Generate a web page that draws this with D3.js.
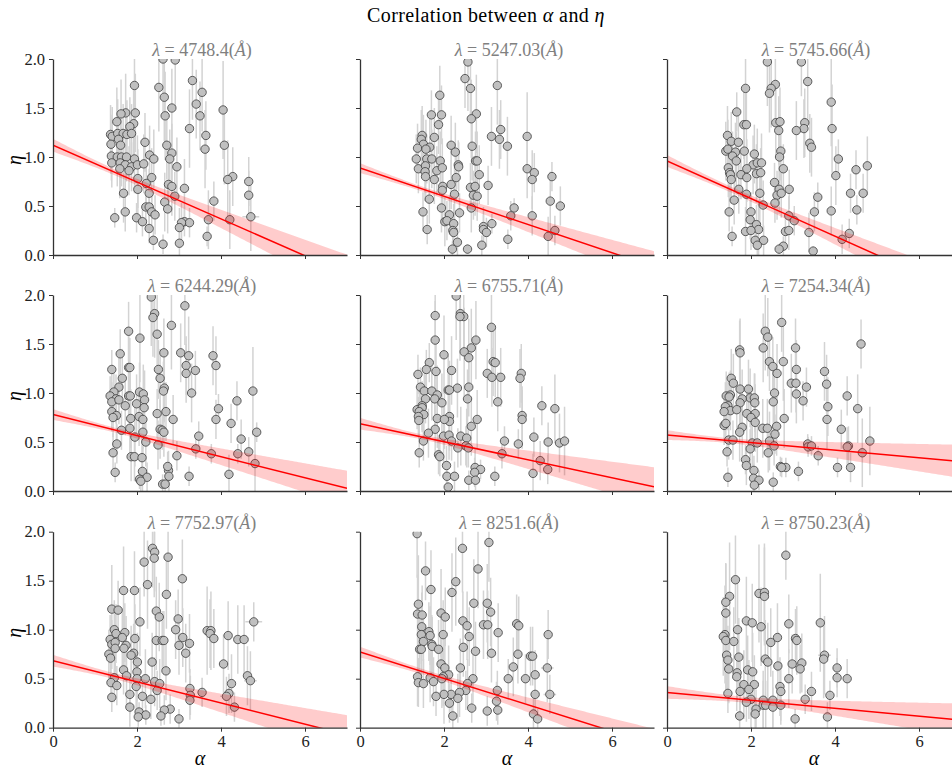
<!DOCTYPE html>
<html><head><meta charset="utf-8">
<script src="https://cdn.jsdelivr.net/npm/d3@7"></script>
<style>body{margin:0;background:#fff;overflow:hidden}</style>
</head><body><svg id="c" width="952" height="772"></svg>
<script>
const wavelengths = ["4748.4","5247.03","5745.66","6244.29","6755.71","7254.34","7752.97","8251.6","8750.23"];
const xTicks = [0,2,4,6];
const yTicks = [0,0.5,1,1.5,2];
// each point: [alpha, eta, eta error, (optional) alpha error]
const p1 = [[2.62,2.0,0.55],[2.91,1.99,0.5],[1.94,1.73,0.45],[3.32,1.78,0.4],[2.52,1.71,0.45],[3.55,1.66,0.4],[2.65,1.61,0.45],[3.41,1.54,0.35],[2.83,1.50,0.4],[4.05,1.48,0.5],[1.73,1.45,0.4],[1.62,1.44,0.35],[1.96,1.45,0.4],[2.67,1.42,0.45],[3.50,1.42,0.35],[1.52,1.36,0.35],[1.92,1.34,0.4],[1.83,1.31,0.3],[3.25,1.29,0.4],[1.37,1.23,0.3],[1.41,1.21,0.3],[1.54,1.24,0.35],[1.67,1.24,0.3],[1.76,1.23,0.35],[1.87,1.24,0.3],[1.56,1.18,0.3],[3.64,1.22,0.35],[1.38,1.13,0.3],[1.61,1.12,0.3],[2.19,1.15,0.3],[2.71,1.12,0.35],[3.62,1.08,0.4],[4.08,1.12,0.4],[1.39,1.01,0.25],[2.83,1.04,0.3],[1.53,1.00,0.3],[1.63,1.00,0.3],[1.75,1.00,0.25],[2.30,1.02,0.3],[2.40,0.98,0.3],[1.94,0.98,0.35],[2.78,0.98,0.3],[1.40,0.94,0.25],[1.60,0.94,0.3],[1.72,0.92,0.3],[1.87,0.90,0.25],[2.01,0.92,0.3],[2.16,0.93,0.3],[2.95,0.90,0.3],[1.59,0.88,0.3],[1.81,0.86,0.25],[2.02,0.78,0.3],[2.35,0.79,0.3],[4.28,0.80,0.3],[4.16,0.77,0.4],[2.22,0.73,0.3],[4.66,0.75,0.25],[2.75,0.72,0.25],[2.83,0.70,0.3],[3.13,0.68,0.3],[2.02,0.67,0.25],[1.68,0.63,0.3],[2.29,0.63,0.25],[2.90,0.60,0.25],[4.66,0.61,0.25],[3.83,0.55,0.2],[2.66,0.54,0.3],[2.21,0.49,0.2],[2.29,0.49,0.2],[2.73,0.47,0.25],[2.35,0.44,0.2],[2.43,0.41,0.2],[1.72,0.44,0.2],[1.47,0.38,0.1],[1.99,0.38,0.15],[2.13,0.34,0.15],[4.71,0.39,0.35,0.2],[3.70,0.36,0.3],[4.21,0.36,0.3],[3.13,0.34,0.15],[3.25,0.33,0.15],[3.06,0.33,0.2],[3.01,0.28,0.2],[2.29,0.27,0.15],[3.67,0.19,0.1],[2.39,0.15,0.1],[2.62,0.11,0.1],[3.01,0.12,0.12]];
const p2 = [[2.57,1.97,0.5],[2.50,1.80,0.3],[2.63,1.70,0.35],[3.27,1.73,0.4],[1.90,1.63,0.3],[1.70,1.43,0.25],[1.94,1.43,0.3],[2.77,1.44,0.4],[2.65,1.39,0.4],[1.87,1.33,0.3],[3.35,1.28,0.3],[3.13,1.21,0.3],[3.32,1.18,0.3],[3.98,1.21,0.45],[1.77,1.20,0.3],[1.48,1.22,0.3],[1.46,1.18,0.3],[1.51,1.13,0.3],[1.37,1.09,0.25],[1.66,1.10,0.3],[2.17,1.12,0.3],[2.67,1.11,0.35],[3.51,1.11,0.3],[2.27,1.05,0.3],[1.57,1.08,0.3],[1.34,0.98,0.25],[1.59,0.98,0.25],[1.71,0.98,0.3],[1.91,0.96,0.3],[2.75,0.96,0.3],[2.79,0.96,0.3],[2.34,0.92,0.25],[2.35,0.90,0.25],[1.39,0.88,0.25],[1.56,0.91,0.3],[1.83,0.86,0.25],[1.96,0.89,0.3],[1.55,0.85,0.3],[1.56,0.80,0.25],[2.84,0.82,0.3],[3.98,0.88,0.3],[4.15,0.84,0.2],[4.10,0.77,0.3],[4.57,0.80,0.15],[1.77,0.77,0.25],[2.29,0.79,0.25],[1.97,0.70,0.3],[1.96,0.66,0.3],[2.17,0.72,0.25],[2.63,0.69,0.25],[2.74,0.70,0.3],[3.05,0.71,0.2],[1.65,0.57,0.25],[2.25,0.62,0.3],[2.70,0.61,0.25],[2.79,0.60,0.25],[4.53,0.55,0.3],[4.77,0.50,0.2],[1.94,0.48,0.25],[2.65,0.48,0.25],[3.67,0.48,0.1],[3.59,0.40,0.15],[4.10,0.40,0.2],[1.50,0.44,0.2],[2.37,0.43,0.2],[2.13,0.41,0.2],[2.02,0.34,0.25],[2.07,0.35,0.2],[2.23,0.32,0.2],[3.14,0.32,0.1],[2.94,0.29,0.2],[2.94,0.26,0.15],[3.01,0.23,0.15],[1.60,0.26,0.15],[2.21,0.25,0.15],[2.23,0.23,0.15],[4.64,0.25,0.15],[4.48,0.19,0.2],[2.32,0.13,0.15],[3.52,0.16,0.1],[2.90,0.10,0.1],[2.20,0.06,0.08],[2.56,0.06,0.05]];
const p3 = [[2.39,1.97,0.45],[3.20,1.97,0.35],[3.35,1.77,0.4],[2.58,1.74,0.4],[2.48,1.70,0.4],[2.44,1.65,0.4],[1.87,1.70,0.35],[3.91,1.56,0.45],[1.66,1.46,0.2],[1.83,1.33,0.35],[1.89,1.33,0.4],[2.59,1.35,0.35],[2.69,1.36,0.35],[2.66,1.27,0.35],[3.28,1.35,0.35],[3.26,1.29,0.3],[3.08,1.27,0.3],[3.93,1.29,0.45],[1.44,1.22,0.3],[1.53,1.16,0.3],[1.70,1.15,0.3],[3.40,1.14,0.3],[3.44,1.10,0.3],[1.40,1.06,0.3],[1.45,1.08,0.3],[1.63,1.05,0.3],[1.84,1.06,0.3],[2.08,1.03,0.3],[2.71,1.06,0.3],[1.56,1.01,0.25],[2.68,1.00,0.3],[4.08,0.98,0.2],[1.65,0.96,0.3],[2.05,0.92,0.3],[2.15,0.94,0.35],[2.25,0.94,0.3],[4.77,0.91,0.3],[4.50,0.87,0.2],[1.46,0.89,0.3],[1.90,0.88,0.3],[2.77,0.88,0.25],[2.13,0.83,0.3],[2.23,0.84,0.25],[1.49,0.84,0.3],[1.51,0.82,0.25],[1.76,0.82,0.25],[1.90,0.79,0.25],[1.53,0.77,0.25],[4.02,0.81,0.3],[2.56,0.74,0.2],[1.71,0.67,0.25],[2.67,0.67,0.25],[2.91,0.67,0.2],[1.89,0.62,0.25],[2.21,0.63,0.3],[2.62,0.61,0.25],[2.72,0.63,0.25],[4.37,0.63,0.2],[4.67,0.63,0.2],[3.59,0.59,0.15],[1.60,0.56,0.25],[2.57,0.53,0.2],[2.29,0.51,0.25],[3.91,0.45,0.25],[4.52,0.46,0.15],[3.51,0.44,0.2],[1.48,0.44,0.2],[2.00,0.44,0.2],[2.90,0.40,0.2],[3.03,0.35,0.15],[1.98,0.36,0.2],[2.13,0.31,0.2],[2.18,0.26,0.3],[2.82,0.24,0.15],[2.90,0.25,0.2],[3.38,0.23,0.2],[1.87,0.24,0.25],[2.00,0.25,0.2],[4.34,0.22,0.15],[4.17,0.16,0.15],[1.55,0.19,0.1],[2.10,0.15,0.1],[2.30,0.15,0.15],[2.15,0.10,0.1],[2.77,0.09,0.1],[2.67,0.06,0.05],[3.48,0.04,0.05]];
const p4 = [[2.34,1.98,0.5],[3.14,1.89,0.4],[2.42,1.81,0.45],[2.38,1.77,0.4],[2.82,1.69,0.45],[1.80,1.63,0.3],[2.07,1.56,0.45],[2.48,1.60,0.45],[1.60,1.40,0.25],[2.64,1.41,0.35],[3.04,1.41,0.3],[3.23,1.38,0.4],[3.81,1.38,0.3],[1.80,1.26,0.4],[1.83,1.26,0.3],[3.17,1.28,0.3],[3.88,1.28,0.3],[1.40,1.24,0.2],[2.51,1.24,0.3],[3.39,1.23,0.2],[3.17,1.20,0.3],[1.65,1.15,0.3],[2.55,1.15,0.3],[1.57,1.06,0.3],[2.65,1.05,0.35],[2.63,1.02,0.3],[1.45,1.01,0.2],[2.06,1.01,0.3],[2.15,0.99,0.3],[3.30,1.00,0.3],[4.76,1.02,0.45],[1.36,0.97,0.2],[1.80,0.97,0.25],[1.84,0.97,0.3],[1.50,0.94,0.25],[1.40,0.91,0.2],[1.57,0.93,0.25],[2.18,0.93,0.3],[4.38,0.92,0.2],[1.72,0.87,0.3],[1.99,0.89,0.3],[2.17,0.85,0.25],[1.40,0.81,0.2],[3.94,0.84,0.15],[2.69,0.81,0.3],[2.48,0.79,0.25],[1.51,0.77,0.25],[1.43,0.75,0.2],[1.85,0.74,0.3],[2.05,0.76,0.3],[2.14,0.73,0.3],[2.86,0.73,0.25],[3.88,0.73,0.2],[4.24,0.69,0.2],[1.83,0.64,0.25],[1.63,0.62,0.2],[2.55,0.63,0.3],[2.60,0.62,0.2],[2.64,0.60,0.25],[2.14,0.60,0.3],[4.85,0.60,0.1,0.1],[1.95,0.55,0.3],[3.47,0.56,0.15],[4.48,0.53,0.2],[2.21,0.50,0.25],[1.52,0.48,0.2],[2.50,0.47,0.25],[3.40,0.43,0.1],[3.77,0.38,0.1],[4.40,0.38,0.1],[4.66,0.40,0.15],[1.43,0.39,0.2],[2.95,0.36,0.15],[1.86,0.35,0.25],[1.94,0.35,0.25],[2.12,0.34,0.25],[4.81,0.28,0.3],[1.48,0.19,0.1],[2.13,0.20,0.25],[2.75,0.21,0.2],[2.73,0.25,0.15],[3.24,0.15,0.1],[2.76,0.15,0.15],[4.19,0.17,0.2,0.1],[2.24,0.14,0.15],[2.06,0.12,0.1],[2.09,0.10,0.1],[2.61,0.07,0.1],[2.67,0.07,0.1]];
const p5 = [[2.29,1.99,0.45],[2.39,1.81,0.4],[2.47,1.78,0.4],[2.38,1.78,0.45],[1.79,1.79,0.3],[3.13,1.67,0.4],[1.79,1.54,0.4],[2.76,1.54,0.4],[2.65,1.46,0.4],[2.48,1.42,0.45],[2.00,1.39,0.4],[2.59,1.36,0.4],[3.17,1.32,0.35],[3.22,1.31,0.35],[1.65,1.31,0.2],[1.58,1.24,0.2],[1.81,1.22,0.3],[2.18,1.23,0.35],[1.38,1.19,0.2],[3.03,1.20,0.25],[3.14,1.16,0.3],[3.35,1.16,0.3],[3.84,1.20,0.3],[3.81,1.15,0.3],[1.44,1.06,0.2],[2.32,1.05,0.3],[2.59,1.06,0.3],[1.53,1.02,0.25],[1.71,1.02,0.3],[2.10,1.03,0.35],[2.13,1.03,0.3],[1.84,0.98,0.3],[1.56,0.94,0.25],[1.78,0.94,0.3],[2.56,0.94,0.3],[1.95,0.90,0.3],[3.28,0.91,0.3],[4.33,0.87,0.2],[4.64,0.84,0.35],[1.48,0.87,0.25],[1.36,0.83,0.2],[1.48,0.85,0.25],[1.41,0.81,0.25],[1.52,0.78,0.2],[1.39,0.76,0.2],[1.40,0.72,0.2],[1.84,0.74,0.3],[2.13,0.76,0.3],[2.13,0.71,0.3],[2.01,0.73,0.3],[2.79,0.73,0.3],[3.86,0.77,0.3],[3.86,0.73,0.3],[2.65,0.66,0.3],[1.79,0.63,0.25],[1.63,0.59,0.25],[1.99,0.56,0.3],[2.12,0.57,0.25],[2.40,0.56,0.3],[2.54,0.54,0.3],[4.14,0.55,0.2],[1.51,0.51,0.2],[2.18,0.51,0.2],[3.44,0.51,0.15],[3.77,0.48,0.15],[4.48,0.50,0.2],[4.75,0.49,0.3],[4.87,0.51,0.35,0.1],[2.52,0.46,0.2],[2.58,0.44,0.2],[2.33,0.44,0.2],[1.41,0.39,0.15],[3.38,0.38,0.15],[1.87,0.37,0.2],[1.90,0.35,0.2],[4.29,0.31,0.2],[4.47,0.22,0.15],[2.06,0.26,0.2],[2.74,0.24,0.2],[2.87,0.22,0.1],[2.73,0.19,0.15],[4.12,0.18,0.2,0.1],[2.07,0.15,0.15],[2.25,0.15,0.15],[3.21,0.15,0.1],[2.59,0.11,0.1],[2.75,0.11,0.1],[2.10,0.04,0.05]];
const p6 = [[2.73,1.72,0.3],[2.34,1.63,0.4],[2.40,1.57,0.4],[2.29,1.46,0.35],[1.73,1.44,0.3],[1.74,1.41,0.35],[3.06,1.46,0.3],[4.62,1.50,0.25],[2.44,1.32,0.3],[2.77,1.32,0.4],[2.52,1.27,0.3],[3.08,1.24,0.3],[3.75,1.22,0.3],[2.62,1.20,0.3],[1.53,1.15,0.3],[1.58,1.10,0.3],[2.96,1.10,0.3],[3.07,1.10,0.3],[3.80,1.09,0.3],[3.32,1.06,0.2],[1.74,1.04,0.35],[1.94,1.04,0.3],[2.56,1.00,0.3],[3.08,0.99,0.3],[1.41,0.97,0.25],[1.51,0.98,0.25],[1.48,0.96,0.25],[1.98,0.95,0.3],[2.08,0.95,0.25],[1.79,0.94,0.3],[4.29,0.97,0.2],[2.09,0.90,0.3],[1.74,0.90,0.3],[2.53,0.91,0.3],[3.24,0.92,0.2],[1.45,0.87,0.25],[1.39,0.86,0.25],[3.83,0.86,0.3],[1.51,0.82,0.2],[1.66,0.83,0.2],[4.54,0.84,0.35,0.1],[1.36,0.81,0.2],[1.90,0.79,0.3],[2.10,0.79,0.3],[2.00,0.75,0.3],[2.79,0.74,0.3],[3.81,0.73,0.3],[2.10,0.70,0.3],[1.36,0.67,0.2],[1.40,0.69,0.2],[1.79,0.65,0.3],[2.28,0.64,0.3],[2.39,0.64,0.3],[2.61,0.66,0.3],[4.15,0.63,0.2],[1.73,0.60,0.3],[2.57,0.58,0.2],[1.47,0.52,0.2],[1.57,0.52,0.2],[2.44,0.51,0.3],[4.83,0.51,0.35,0.1],[2.03,0.49,0.25],[2.15,0.49,0.2],[2.55,0.46,0.2],[3.35,0.48,0.1],[3.36,0.45,0.1],[3.44,0.46,0.1],[4.32,0.46,0.2],[4.29,0.45,0.2],[1.98,0.43,0.2],[1.43,0.40,0.15],[2.41,0.39,0.2],[4.65,0.39,0.35],[3.60,0.36,0.1],[1.87,0.32,0.15],[1.89,0.26,0.2],[2.70,0.25,0.1],[2.83,0.24,0.1],[2.73,0.24,0.1],[4.06,0.24,0.1],[4.37,0.24,0.15],[3.13,0.20,0.1],[2.07,0.21,0.15],[1.45,0.14,0.1],[2.06,0.13,0.15],[2.19,0.11,0.1],[2.08,0.06,0.1],[2.53,0.09,0.1]];
const p7 = [[2.37,1.83,0.4],[2.42,1.79,0.4],[2.41,1.73,0.4],[2.74,1.74,0.35],[2.17,1.69,0.35],[3.08,1.52,0.4],[2.25,1.46,0.45],[1.68,1.40,0.45],[1.94,1.40,0.4],[2.70,1.36,0.35],[1.40,1.21,0.45],[1.55,1.20,0.3],[2.46,1.19,0.35],[2.53,1.13,0.35],[2.98,1.11,0.3],[2.07,1.08,0.35],[4.78,1.08,0.2,0.2],[2.92,1.00,0.3],[1.46,1.00,0.3],[3.67,0.99,0.45,0.1],[3.76,0.99,0.4],[1.50,0.96,0.3],[1.71,0.97,0.3],[3.74,0.96,0.35],[4.17,0.94,0.35],[1.65,0.92,0.3],[1.95,0.91,0.35],[3.83,0.91,0.3],[2.46,0.89,0.3],[2.60,0.89,0.3],[2.64,0.89,0.3],[3.09,0.92,0.3],[4.40,0.90,0.35],[4.55,0.90,0.35],[1.36,0.90,0.25],[1.40,0.85,0.25],[1.48,0.87,0.3],[3.25,0.86,0.3],[3.00,0.84,0.3],[1.74,0.84,0.3],[1.69,0.81,0.3],[1.48,0.81,0.25],[3.16,0.76,0.3],[1.33,0.75,0.25],[1.92,0.76,0.3],[1.86,0.74,0.3],[1.37,0.71,0.25],[2.01,0.67,0.3],[2.36,0.67,0.3],[4.06,0.65,0.3],[2.69,0.58,0.3],[2.00,0.57,0.3],[1.68,0.59,0.25],[1.75,0.53,0.3],[4.63,0.53,0.3,0.1],[4.70,0.48,0.3,0.15],[1.46,0.51,0.25],[2.00,0.50,0.3],[2.20,0.50,0.3],[2.42,0.47,0.25],[1.38,0.46,0.2],[1.52,0.43,0.2],[2.54,0.45,0.25],[4.25,0.45,0.3],[1.98,0.42,0.25],[2.48,0.38,0.2],[3.26,0.40,0.2],[3.55,0.36,0.15],[3.27,0.33,0.2],[4.19,0.35,0.2],[4.13,0.32,0.2,0.15],[2.13,0.32,0.2],[1.83,0.34,0.2],[1.40,0.31,0.15],[2.33,0.29,0.2],[3.26,0.28,0.2],[4.32,0.21,0.15],[1.83,0.21,0.2],[2.79,0.19,0.15],[2.65,0.18,0.15],[2.05,0.16,0.1],[2.21,0.13,0.1],[2.57,0.12,0.1],[2.03,0.11,0.1],[3.00,0.09,0.1]];
const p8 = [[1.36,1.98,0.45],[3.07,1.89,0.4],[2.44,1.83,0.45],[2.81,1.62,0.4],[1.56,1.60,0.3],[2.28,1.49,0.45],[1.69,1.41,0.4],[2.19,1.38,0.4],[1.39,1.26,0.5],[2.71,1.27,0.45],[3.03,1.27,0.4],[1.37,1.16,0.4],[1.48,1.15,0.3],[1.93,1.17,0.45,0.1],[2.03,1.13,0.3],[3.11,1.18,0.35],[2.45,1.09,0.3],[2.55,1.04,0.35],[2.94,1.05,0.35],[3.04,1.05,0.35],[3.73,1.06,0.3,0.1],[3.78,1.04,0.3],[1.47,1.03,0.35],[1.64,0.98,0.3],[1.46,0.95,0.3],[1.67,0.94,0.3],[1.98,0.95,0.35],[3.29,0.97,0.3],[4.48,0.95,0.25],[2.60,0.93,0.3],[1.51,0.88,0.3],[1.71,0.85,0.3],[1.72,0.83,0.3],[2.46,0.82,0.3],[1.42,0.80,0.35],[1.46,0.80,0.3],[1.87,0.80,0.3],[2.75,0.78,0.3],[3.13,0.76,0.3],[3.76,0.75,0.3],[4.06,0.73,0.3],[4.11,0.73,0.3],[1.93,0.65,0.3],[2.02,0.61,0.3],[2.39,0.61,0.3],[3.65,0.62,0.3],[4.46,0.61,0.35,0.15],[4.17,0.54,0.25,0.1],[2.11,0.54,0.3],[1.98,0.52,0.3],[1.95,0.50,0.3],[1.37,0.52,0.3],[1.67,0.51,0.25],[2.69,0.50,0.25],[3.53,0.50,0.2],[3.94,0.50,0.25],[1.75,0.47,0.25],[1.39,0.46,0.25],[1.51,0.45,0.25],[2.56,0.45,0.25],[2.52,0.38,0.2],[3.27,0.38,0.2],[2.37,0.36,0.25],[4.17,0.34,0.2],[4.52,0.34,0.2,0.15],[2.17,0.34,0.25],[2.00,0.34,0.3],[1.81,0.32,0.2],[2.33,0.30,0.25],[3.25,0.27,0.2],[2.13,0.25,0.2],[2.66,0.20,0.15],[3.03,0.17,0.15],[3.28,0.18,0.15],[4.13,0.14,0.2],[4.23,0.09,0.1],[2.21,0.12,0.15]];
const p9 = [[2.83,1.76,0.25],[1.63,1.51,0.45],[1.49,1.34,0.55],[1.40,1.28,0.4],[2.19,1.37,0.5],[2.32,1.38,0.5],[2.32,1.34,0.5],[1.40,1.17,0.5],[1.89,1.09,0.45],[2.03,1.07,0.4],[2.24,1.03,0.4],[2.90,1.06,0.3],[3.65,1.07,0.5,0.1],[1.68,1.00,0.5],[1.38,0.95,0.5],[1.34,0.93,0.4],[1.40,0.89,0.5],[1.59,0.88,0.35],[2.63,0.92,0.35],[2.47,0.87,0.35],[3.06,0.91,0.3],[3.09,0.89,0.35],[1.42,0.74,0.4],[1.45,0.69,0.35],[1.71,0.72,0.4],[2.34,0.70,0.4],[2.40,0.67,0.4],[3.75,0.74,0.4,0.15],[3.73,0.70,0.4],[2.64,0.63,0.35],[2.98,0.65,0.3],[3.21,0.66,0.3],[1.47,0.60,0.35],[1.92,0.59,0.35],[2.04,0.57,0.4],[3.17,0.60,0.25],[4.05,0.61,0.2],[1.67,0.56,0.3],[1.66,0.52,0.35],[2.90,0.50,0.3],[4.05,0.51,0.2],[4.29,0.50,0.2],[1.83,0.44,0.35],[2.08,0.44,0.3],[2.69,0.42,0.3],[1.95,0.39,0.3],[1.74,0.37,0.3],[2.71,0.37,0.3],[3.44,0.37,0.2],[1.45,0.35,0.2],[3.88,0.33,0.15],[2.00,0.29,0.3],[3.29,0.29,0.15],[2.29,0.28,0.3],[2.52,0.28,0.3],[1.89,0.26,0.2],[2.29,0.23,0.25],[2.35,0.23,0.25],[2.71,0.23,0.2],[2.52,0.21,0.2],[2.12,0.19,0.2],[2.10,0.14,0.15],[1.73,0.12,0.15],[3.82,0.11,0.15],[3.05,0.09,0.1]];
const panels = [p1,p2,p3,p4,p5,p6,p7,p8,p9];
// regression fit per panel
const intercepts = [1.12,0.887,0.96,0.78,0.687,0.571,0.684,0.772,0.36];
const slopes = [-0.188,-0.144,-0.192,-0.1076,-0.092,-0.0385,-0.108,-0.1347,-0.0405];
const bandAt0 = [0.065,0.05,0.06,0.055,0.06,0.05,0.06,0.055,0.065];
const bandAt7 = [0.2,0.16,0.18,0.18,0.2,0.17,0.2,0.16,0.17];
const bandMin = [0.03,0.025,0.03,0.025,0.025,0.025,0.03,0.028,0.03];

const svg = d3.select("#c");
const FONT = "'Liberation Serif','DejaVu Serif',serif";
const W = 294, H = 196;
const colLeft = [53, 360, 667];
const rowTop = [59, 295, 531.7];

const title = svg.append("text").attr("x", 486).attr("y", 22).attr("text-anchor","middle")
  .style("font-family", FONT).style("font-size", "20px").style("letter-spacing", "0.4px").attr("fill","#000");
title.append("tspan").text("Correlation between ");
title.append("tspan").attr("font-style","italic").text("α");
title.append("tspan").text(" and ");
title.append("tspan").attr("font-style","italic").text("η");

const defs = svg.append("defs");

panels.forEach((data, i) => {
  const col = i % 3, row = Math.floor(i / 3);
  const left = colLeft[col], top = rowTop[row];
  const x = d3.scaleLinear().domain([0, 7]).range([left, left + W]);
  const y = d3.scaleLinear().domain([0, 2]).range([top + H, top]);
  defs.append("clipPath").attr("id", "clip" + i).append("rect")
    .attr("x", left).attr("y", top).attr("width", W).attr("height", H);
  const g = svg.append("g").attr("clip-path", `url(#clip${i})`);

  // error bars
  g.append("g").selectAll("line").data(data).join("line")
    .attr("x1", d => x(d[0])).attr("x2", d => x(d[0]))
    .attr("y1", d => y(d[1] - d[2])).attr("y2", d => y(d[1] + d[2]))
    .attr("stroke", "#d3d3d3").attr("stroke-width", 1.5);
  g.append("g").selectAll("line").data(data.filter(d => d.length > 3)).join("line")
    .attr("x1", d => x(d[0] - d[3])).attr("x2", d => x(d[0] + d[3]))
    .attr("y1", d => y(d[1])).attr("y2", d => y(d[1]))
    .attr("stroke", "#d3d3d3").attr("stroke-width", 1.5);
  // points
  g.append("g").selectAll("circle").data(data).join("circle")
    .attr("cx", d => x(d[0])).attr("cy", d => y(d[1])).attr("r", 4.2)
    .attr("fill", "#c0c0c0").attr("stroke", "#3c3c3c").attr("stroke-width", 0.8);

  // confidence band
  const a = intercepts[i], b = slopes[i];
  const A = bandMin[i] ** 2;
  const r = Math.sqrt((bandAt7[i] ** 2 - A) / (bandAt0[i] ** 2 - A));
  const xc = 7 / (1 + r);
  const B = (bandAt0[i] ** 2 - A) / (xc * xc);
  const halfW = v => Math.sqrt(A + B * (v - xc) ** 2);
  const xs = d3.range(0, 7.001, 0.05);
  g.append("path").datum(xs)
    .attr("d", d3.area().x(v => x(v)).y0(v => y(a + b * v - halfW(v))).y1(v => y(a + b * v + halfW(v))))
    .attr("fill", "rgba(255,0,0,0.2)").attr("stroke", "none");
  g.append("path").datum([0, 7])
    .attr("d", d3.line().x(v => x(v)).y(v => y(a + b * v)))
    .attr("stroke", "#ff0000").attr("stroke-width", 1.5).attr("fill", "none");

  // axes
  const ay = svg.append("g").attr("transform", `translate(${left},0)`)
    .call(d3.axisLeft(y).tickValues(yTicks).tickSize(4).tickSizeOuter(0).tickPadding(4)
      .tickFormat(col === 0 ? d3.format(".1f") : () => ""));
  const ax = svg.append("g").attr("transform", `translate(0,${top + H})`)
    .call(d3.axisBottom(x).tickValues(xTicks).tickSize(4).tickSizeOuter(0).tickPadding(4)
      .tickFormat(row === 2 ? d3.format("d") : () => ""));
  [ax, ay].forEach(ag => {
    ag.attr("font-family", null).attr("font-size", null);
    ag.select(".domain").attr("stroke", "#333").attr("stroke-width", 1.3);
    ag.selectAll(".tick line").attr("stroke", "#333").attr("stroke-width", 1);
    ag.selectAll(".tick text").style("font-family", FONT).style("font-size", "16.5px").attr("fill", "#222");
  });

  // panel title
  const t = svg.append("text").attr("x", left + W / 2 + 2).attr("y", top - 3)
    .attr("text-anchor", "middle").style("font-family", FONT).style("font-size", "18px").attr("fill", "#808080");
  t.append("tspan").attr("font-style", "italic").text("λ");
  t.append("tspan").text(" = " + wavelengths[i] + "(");
  t.append("tspan").attr("font-style", "italic").text("Å");
  t.append("tspan").text(")");

  if (col === 0) {
    svg.append("text").attr("transform", `translate(21,${top + H / 2 + 3}) rotate(-90)`)
      .attr("text-anchor", "middle").style("font-family", FONT).attr("font-style", "italic")
      .style("font-size", "20px").attr("fill", "#000").text("η");
  }
  if (row === 2) {
    svg.append("text").attr("x", left + W / 2).attr("y", 765)
      .attr("text-anchor", "middle").style("font-family", FONT).attr("font-style", "italic")
      .style("font-size", "20px").attr("fill", "#000").text("α");
  }
});
</script>
</body></html>
